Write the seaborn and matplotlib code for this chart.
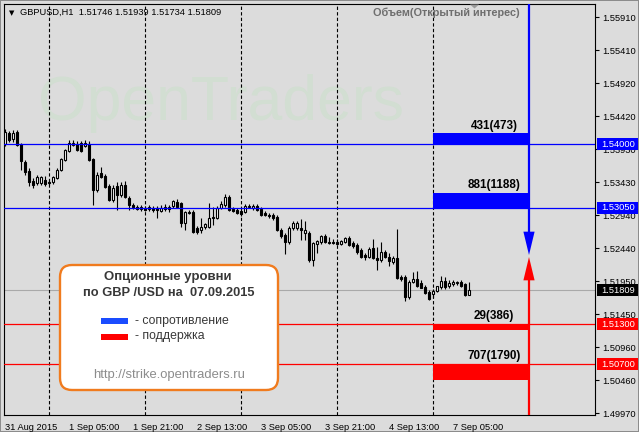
import numpy as np
import pandas as pd
import matplotlib
matplotlib.use("Agg")
import matplotlib.pyplot as plt
import matplotlib.transforms as mtrans
from matplotlib.patches import Rectangle, FancyBboxPatch, Polygon
import seaborn as sns

# ---------------- data ----------------
opens = [
    1.5400, 1.5417, 1.5408, 1.5419, 1.5401, 1.5374, 1.5360, 1.5345, 1.5342, 1.5342,
    1.5347, 1.5344, 1.5343, 1.5350, 1.5361, 1.5377, 1.5390, 1.5399, 1.5401, 1.5402,
    1.5398, 1.5401, 1.5378, 1.5332, 1.5357, 1.5353, 1.5338, 1.5317, 1.5338, 1.5324,
    1.5339, 1.5320, 1.5309, 1.5306, 1.5303, 1.5305, 1.5303, 1.5305, 1.5305, 1.5300,
    1.5303, 1.5303, 1.5308, 1.5314, 1.5312, 1.5282, 1.5299, 1.5298, 1.5275, 1.5271,
    1.5276, 1.5276, 1.5291, 1.5290, 1.5305, 1.5309, 1.5321, 1.5303, 1.5302, 1.5300,
    1.5299, 1.5306, 1.5304, 1.5308, 1.5303, 1.5297, 1.5294, 1.5294, 1.5291, 1.5272,
    1.5264, 1.5254, 1.5275, 1.5274, 1.5274, 1.5267, 1.5267, 1.5227, 1.5251, 1.5254,
    1.5263, 1.5254, 1.5254, 1.5254, 1.5251, 1.5254, 1.5259, 1.5252, 1.5249, 1.5241,
    1.5234, 1.5231, 1.5245, 1.5230, 1.5227, 1.5239, 1.5231, 1.5224, 1.5230, 1.5201,
    1.5201, 1.5171, 1.5194, 1.5198, 1.5192, 1.5186, 1.5178, 1.5176, 1.5180, 1.5186,
    1.5195, 1.5187, 1.5191, 1.5192, 1.5194, 1.5190, 1.51746]
highs = [
    1.5423, 1.5420, 1.5422, 1.5422, 1.5402, 1.5377, 1.5365, 1.5350, 1.5354, 1.5353,
    1.5352, 1.5347, 1.5353, 1.5365, 1.5380, 1.5393, 1.5407, 1.5407, 1.5405, 1.5405,
    1.5407, 1.5405, 1.5380, 1.5359, 1.5366, 1.5356, 1.5341, 1.5339, 1.5344, 1.5344,
    1.5345, 1.5323, 1.5312, 1.5309, 1.5309, 1.5308, 1.5309, 1.5308, 1.5308, 1.5309,
    1.5310, 1.5309, 1.5317, 1.5318, 1.5314, 1.5300, 1.5302, 1.5301, 1.5278, 1.5290,
    1.5282, 1.5312, 1.5306, 1.5308, 1.5315, 1.5326, 1.5324, 1.5306, 1.5305, 1.5303,
    1.5310, 1.5311, 1.5311, 1.5311, 1.5306, 1.5300, 1.5297, 1.5297, 1.5294, 1.5275,
    1.5267, 1.5277, 1.5285, 1.5285, 1.5288, 1.5285, 1.5270, 1.5254, 1.5257, 1.5264,
    1.5266, 1.5261, 1.5258, 1.5258, 1.5257, 1.5261, 1.5262, 1.5255, 1.5252, 1.5244,
    1.5237, 1.5246, 1.5258, 1.5246, 1.5254, 1.5242, 1.5237, 1.5233, 1.5273, 1.5204,
    1.5204, 1.5196, 1.5209, 1.5210, 1.5197, 1.5189, 1.5181, 1.5183, 1.5188, 1.5203,
    1.5201, 1.5197, 1.5196, 1.5195, 1.5196, 1.5192, 1.51939]
lows = [
    1.5398, 1.5403, 1.5404, 1.5398, 1.5362, 1.5354, 1.5338, 1.5335, 1.5339, 1.5339,
    1.5338, 1.5339, 1.5341, 1.5348, 1.5360, 1.5375, 1.5389, 1.5398, 1.5390, 1.5389,
    1.5396, 1.5375, 1.5309, 1.5329, 1.5349, 1.5335, 1.5315, 1.5314, 1.5302, 1.5321,
    1.5320, 1.5302, 1.5303, 1.5302, 1.5300, 1.5300, 1.5300, 1.5299, 1.5290, 1.5299,
    1.5300, 1.5299, 1.5305, 1.5305, 1.5276, 1.5272, 1.5295, 1.5267, 1.5265, 1.5267,
    1.5273, 1.5274, 1.5279, 1.5288, 1.5303, 1.5306, 1.5300, 1.5298, 1.5295, 1.5293,
    1.5297, 1.5304, 1.5302, 1.5300, 1.5292, 1.5292, 1.5290, 1.5287, 1.5270, 1.5260,
    1.5236, 1.5250, 1.5272, 1.5272, 1.5257, 1.5257, 1.5224, 1.5218, 1.5237, 1.5250,
    1.5252, 1.5251, 1.5250, 1.5249, 1.5249, 1.5252, 1.5248, 1.5245, 1.5236, 1.5229,
    1.5227, 1.5229, 1.5228, 1.5212, 1.5224, 1.5230, 1.5218, 1.5221, 1.5198, 1.5195,
    1.5165, 1.5168, 1.5192, 1.5186, 1.5184, 1.5175, 1.5166, 1.5170, 1.5178, 1.5183,
    1.5183, 1.5185, 1.5188, 1.5189, 1.5186, 1.5172, 1.51734]
closes = [
    1.5419, 1.5407, 1.5417, 1.5399, 1.5375, 1.5359, 1.5344, 1.5339, 1.5351, 1.5351,
    1.5341, 1.5342, 1.5351, 1.5362, 1.5378, 1.5392, 1.5402, 1.5402, 1.5392, 1.5390,
    1.5402, 1.5377, 1.5332, 1.5354, 1.5351, 1.5336, 1.5317, 1.5335, 1.5324, 1.5339,
    1.5321, 1.5309, 1.5306, 1.5303, 1.5306, 1.5302, 1.5306, 1.5302, 1.5302, 1.5305,
    1.5306, 1.5306, 1.5315, 1.5306, 1.5282, 1.5298, 1.5297, 1.5269, 1.5269, 1.5276,
    1.5280, 1.5290, 1.5289, 1.5305, 1.5310, 1.5321, 1.5302, 1.5300, 1.5297, 1.5296,
    1.5308, 1.5308, 1.5308, 1.5302, 1.5294, 1.5294, 1.5292, 1.5290, 1.5272, 1.5263,
    1.5254, 1.5275, 1.5282, 1.5282, 1.5271, 1.5272, 1.5227, 1.5252, 1.5255, 1.5262,
    1.5254, 1.5252, 1.5252, 1.5251, 1.5255, 1.5259, 1.5249, 1.5247, 1.5239, 1.5231,
    1.5231, 1.5243, 1.5230, 1.5227, 1.5239, 1.5231, 1.5225, 1.5230, 1.5200, 1.5198,
    1.5171, 1.5194, 1.5198, 1.5188, 1.5185, 1.5177, 1.5168, 1.5180, 1.5187, 1.5195,
    1.5186, 1.5192, 1.5193, 1.5193, 1.5188, 1.5174, 1.51809]

x_tick_bars = [0, 16, 32, 48, 64, 80, 96, 112]
x_tick_labels = ["31 Aug 2015", "1 Sep 05:00", "1 Sep 21:00", "2 Sep 13:00",
                 "3 Sep 05:00", "3 Sep 21:00", "4 Sep 13:00", "7 Sep 05:00"]
day_separators = [11, 35, 59, 83, 107]

y_ticks = [1.55910, 1.55410, 1.54920, 1.54420, 1.53930, 1.53430, 1.52940,
           1.52440, 1.51950, 1.51450, 1.50960, 1.50460, 1.49970]

level_prices = [1.54000, 1.53050, 1.51300, 1.50700]
level_kinds = ["res", "res", "sup", "sup"]
level_texts = ["431(473)", "881(1188)", "29(386)", "707(1790)"]
level_depth = [0.00165, 0.00225, 0.00090, 0.00240]
band_start, band_end = 107, 131
arrow_bar = 131
arrow_tip_res, arrow_tip_sup = 1.52341, 1.52311

last_price = 1.51809
header = "GBPUSD,H1  1.51746 1.51939 1.51734 1.51809"

# ---------------- style ----------------
sns.set_style("white")
plt.rcParams["font.family"] = ["Liberation Sans", "DejaVu Sans"]

BG = "#DCDCDC"
BLUE = "#0000FF"
RED = "#FF0000"
W, H = 639, 432

fig = plt.figure(figsize=(W / 100, H / 100), dpi=100)
fig.patch.set_facecolor(BG)
fig.patch.set_edgecolor("#8C8C8C")
fig.patch.set_linewidth(1.2)
PX = mtrans.Affine2D().scale(1 / 100.0) + fig.dpi_scale_trans  # pixel coords, origin bottom-left

def fy(y):
    return H - y

ax = fig.add_axes([4 / W, 17 / H, 591 / W, 411 / H])
ax.set_facecolor(BG)
ymin, ymax = 1.49941, 1.56106
ax.set_xlim(-0.25, 147.5)
ax.set_ylim(ymin, ymax)

df = pd.DataFrame({"o": opens, "h": highs, "l": lows, "c": closes})
df["x"] = np.arange(len(df))

# watermark
ax.text(8.25, 1.561655 - 0.00015 * 120, "OpenTraders", fontsize=45, color="#D2DED2",
        ha="left", va="baseline", zorder=0.5)

# candles
ax.vlines(df["x"], df["l"], df["h"], color="black", lw=0.8, zorder=2)
bull = df[df["c"] >= df["o"]]
bear = df[df["c"] < df["o"]]
minh = 0.00008
ax.bar(bull["x"], np.maximum(bull["c"] - bull["o"], minh), bottom=bull["o"], width=0.5,
       facecolor="white", edgecolor="black", linewidth=0.8, zorder=3)
ax.bar(bear["x"], np.maximum(bear["o"] - bear["c"], minh), bottom=bear["c"], width=0.5,
       facecolor="black", edgecolor="black", linewidth=0.8, zorder=3)

# day separators
ax.vlines(day_separators, ymin, ymax, colors="black", linestyles=(0, (3, 2)), lw=0.8, zorder=1.5)

# current price line
ax.axhline(last_price, color="#A9A9A9", lw=0.8, zorder=1)

# levels
for p, k, t, d in zip(level_prices, level_kinds, level_texts, level_depth):
    col = BLUE if k == "res" else RED
    ax.axhline(p, color=col, lw=0.9, zorder=4)
    if k == "res":
        ax.add_patch(Rectangle((band_start, p), band_end - band_start, d, facecolor=col,
                               edgecolor="none", zorder=4))
        ty = p + d + 0.0011
    else:
        ax.add_patch(Rectangle((band_start, p - d), band_end - band_start, d, facecolor=col,
                               edgecolor="none", zorder=4))
        ty = p + 0.0013
    ax.text(122.3, ty, t, fontsize=8.4, fontweight="bold", color="black",
            ha="center", va="center", zorder=5)

# arrows
head_len = 0.0035
ax.plot([arrow_bar, arrow_bar], [ymax, arrow_tip_res + head_len], color=BLUE, lw=1.6, zorder=5,
        solid_capstyle="butt")
ax.add_patch(Polygon([[arrow_bar - 1.4, arrow_tip_res + head_len],
                      [arrow_bar + 1.4, arrow_tip_res + head_len],
                      [arrow_bar, arrow_tip_res]], closed=True, facecolor=BLUE,
                     edgecolor="none", zorder=5))
ax.plot([arrow_bar, arrow_bar], [ymin, arrow_tip_sup - head_len], color=RED, lw=1.6, zorder=5,
        solid_capstyle="butt")
ax.add_patch(Polygon([[arrow_bar - 1.4, arrow_tip_sup - head_len],
                      [arrow_bar + 1.4, arrow_tip_sup - head_len],
                      [arrow_bar, arrow_tip_sup]], closed=True, facecolor=RED,
                     edgecolor="none", zorder=5))

# axes cosmetics
for s in ax.spines.values():
    s.set_color("black")
    s.set_linewidth(0.8)
ax.yaxis.tick_right()
ax.set_yticks(y_ticks)
ax.set_yticklabels([f"{v:.5f}" for v in y_ticks])
ax.set_xticks(x_tick_bars)
ax.set_xticklabels(x_tick_labels)
for lab in ax.get_xticklabels():
    lab.set_ha("left")
ax.tick_params(axis="both", which="both", direction="out", length=3, width=0.8,
               color="black", labelsize=6.7, labelcolor="black", pad=2)
ax.tick_params(axis="x", pad=2.5)
ax.tick_params(axis="y", left=False, right=True, pad=2.2)
ax.set_xlabel("")
ax.set_ylabel("")

# right-side price boxes
bt = mtrans.blended_transform_factory(fig.transFigure, ax.transData)
box_h = 0.0009
for p, k in zip(level_prices + [last_price], level_kinds + ["last"]):
    col = {"res": BLUE, "sup": RED, "last": "black"}[k]
    r = Rectangle((597 / W, p - box_h), 41 / W, 2 * box_h, transform=bt, facecolor=col,
                  edgecolor="none", clip_on=False, zorder=10)
    ax.add_artist(r)
    ax.text(601 / W, p, f"{p:.5f}", transform=bt, fontsize=6.7, color="white",
            ha="left", va="center", clip_on=False, zorder=11)

# header texts
fig.text(12 / W, fy(13.5) / H, "▼", fontsize=5, color="black", ha="center", va="center",
         family=["DejaVu Sans"])
fig.text(20 / W, fy(12.5) / H, header, fontsize=6.7, color="black", ha="left", va="center")
fig.text(446 / W, fy(12.5) / H, "Объем(Открытый интерес)", fontsize=7.8, fontweight="bold",
         color="#6E6E6E", ha="center", va="center")
fig.add_artist(Polygon([[470, fy(4.5)], [479, fy(4.5)], [474.5, fy(8.5)]], closed=True,
                       transform=PX, facecolor="#9A9A9A", edgecolor="none"))

# legend box
box = FancyBboxPatch((60, fy(390)), 218, 125, boxstyle="round,pad=0,rounding_size=12",
                     transform=PX, facecolor="white", edgecolor="#F07B1E", linewidth=1.7,
                     zorder=20)
fig.add_artist(box)
fig.text(168 / W, fy(277) / H, "Опционные уровни", fontsize=9.5, fontweight="bold",
         color="#383838", ha="center", va="center", zorder=21)
fig.text(169 / W, fy(292.5) / H, "по GBP /USD на  07.09.2015", fontsize=9.3, fontweight="bold",
         color="#383838", ha="center", va="center", zorder=21)
fig.add_artist(Rectangle((101, fy(323.5)), 27, 5.5, transform=PX, facecolor="#1A4CFF",
                         edgecolor="none", zorder=21))
fig.add_artist(Rectangle((101, fy(339.5)), 27, 5.5, transform=PX, facecolor=RED,
                         edgecolor="none", zorder=21))
fig.text(135 / W, fy(321) / H, "- сопротивление", fontsize=8.8, color="#383838",
         ha="left", va="center", zorder=21)
fig.text(135 / W, fy(336) / H, "- поддержка", fontsize=8.8, color="#383838",
         ha="left", va="center", zorder=21)
fig.text(169 / W, fy(375) / H, "http://strike.opentraders.ru", fontsize=9.4, color="#8C8C8C",
         ha="center", va="center", zorder=21)

fig.savefig("out.png", dpi=100, facecolor=fig.get_facecolor(), edgecolor=fig.get_edgecolor())
